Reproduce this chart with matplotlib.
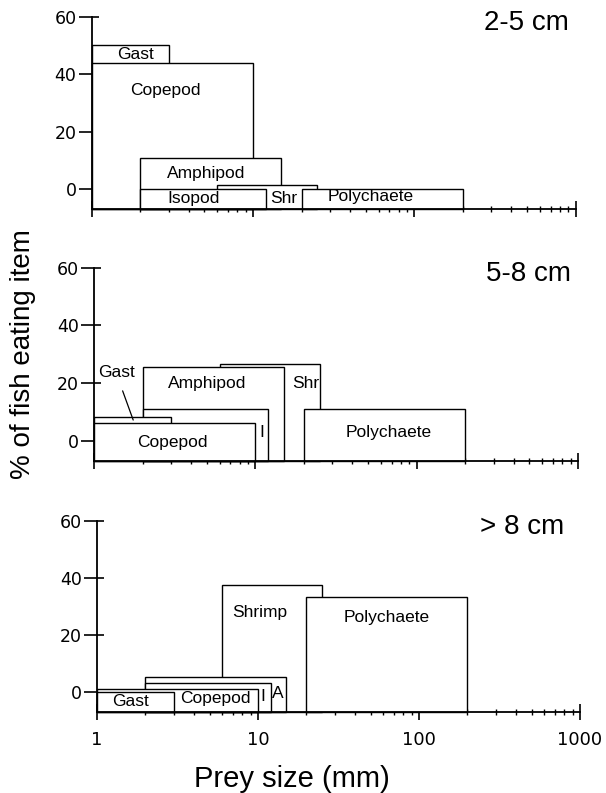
import matplotlib
matplotlib.use("Agg")
import matplotlib.pyplot as plt
from matplotlib.patches import Rectangle
from matplotlib.ticker import FixedLocator, NullFormatter

plt.rcParams['font.family'] = ['Liberation Sans', 'DejaVu Sans']

# prey items per fish size class, listed back-to-front
# (size range in mm, % of fish eating item)
p1_items = ['Gast', 'Copepod', 'Amphipod', 'Shr', 'Isopod', 'Polychaete']
p1_lo = [1, 1, 2, 6, 2, 20]
p1_hi = [3, 10, 15, 25, 12, 200]
p1_pct = [50.3, 44, 11, 1.6, 0.2, 0.2]

p2_items = ['Shr', 'Amphipod', 'I', 'Gast', 'Copepod', 'Polychaete']
p2_lo = [6, 2, 2, 1, 1, 20]
p2_hi = [25, 15, 12, 3, 10, 200]
p2_pct = [26.4, 25.4, 11, 8.1, 6.2, 10.9]

p3_items = ['Shrimp', 'A', 'I', 'Copepod', 'Gast', 'Polychaete']
p3_lo = [6, 2, 2, 1, 1, 20]
p3_hi = [25, 15, 12, 10, 3, 200]
p3_pct = [37.4, 5.4, 3.3, 1.2, 0.1, 33.3]

titles = ['2-5 cm', '5-8 cm', '> 8 cm']
y_ticks = [0, 20, 40, 60]
x_ticks = [1, 10, 100, 1000]
x_ticklabels = ['1', '10', '100', '1000']
YMIN, YMAX = -7, 60

# where the item names sit (data coords)
label_spots = [
    {'Gast': (1.86, 47), 'Copepod': (2.86, 34.4), 'Amphipod': (5.1, 5.6),
     'Shr': (15.5, -3.2), 'Isopod': (4.26, -3.2), 'Polychaete': (53.7, -2.6)},
    {'Shr': (20.4, 19.6), 'Amphipod': (5.0, 19.6), 'I': (11, 2.8),
     'Copepod': (3.08, -0.7), 'Polychaete': (67.5, 2.8)},
    {'Shrimp': (10.2, 27.8), 'A': (13.3, -0.5), 'I': (10.7, -1.4),
     'Copepod': (5.4, -2.3), 'Gast': (1.61, -3.2), 'Polychaete': (63, 26)},
]
title_right = [0.985, 0.985, 0.968]

fig = plt.figure(figsize=(6.06, 7.93), dpi=100)
W, H = 606, 793
# axes boxes in pixels: left, right, top(60), bottom(-7)
boxes = [(91.7, 575.7, 16.7, 209.3), (94, 578, 267.5, 460.7), (97, 580, 521, 712)]

panels = [(p1_items, p1_lo, p1_hi, p1_pct),
          (p2_items, p2_lo, p2_hi, p2_pct),
          (p3_items, p3_lo, p3_hi, p3_pct)]

for i, (items, lo, hi, pct) in enumerate(panels):
    l, r, t, b = boxes[i]
    ax = fig.add_axes([l / W, 1 - b / H, (r - l) / W, (b - t) / H])
    ax.set_xscale('log')
    ax.set_xlim(1, 1000)
    ax.set_ylim(YMIN, YMAX)
    for s in ['top', 'right']:
        ax.spines[s].set_visible(False)
    for s in ['left', 'bottom']:
        ax.spines[s].set_linewidth(1.3)
        ax.spines[s].set_zorder(20)

    for k, name in enumerate(items):
        rect = Rectangle((lo[k], YMIN), hi[k] - lo[k], pct[k] - YMIN,
                         facecolor='white', edgecolor='black', linewidth=1.0,
                         zorder=2 + k, clip_on=False)
        ax.add_patch(rect)
        if name in label_spots[i]:
            x, y = label_spots[i][name]
            ax.text(x, y, name, ha='center', va='center', fontsize=12.5,
                    zorder=15)

    if i == 1:
        ax.annotate('Gast', xy=(1.75, 7.1), xytext=(1.37, 23.5),
                    ha='center', va='center', fontsize=12.5, zorder=15,
                    arrowprops=dict(arrowstyle='-', lw=0.9, color='black',
                                    shrinkA=6, shrinkB=0))

    ax.text(title_right[i], 0.93, titles[i], transform=ax.transAxes,
            ha='right', va='baseline', fontsize=20)

    # y ticks: long outward + short inward
    ax.yaxis.set_major_locator(FixedLocator(y_ticks))
    ax.yaxis.set_minor_locator(FixedLocator(y_ticks))
    ax.yaxis.remove_overlapping_locs = False
    ax.tick_params(axis='y', which='major', direction='out', length=9.5,
                   width=1.2, pad=1.5, labelsize=12.5)
    ax.tick_params(axis='y', which='minor', direction='in', length=4.8,
                   width=1.2)
    for lab in ax.get_yticklabels():
        lab.set_fontfamily('DejaVu Sans')

    ax.xaxis.set_major_locator(FixedLocator(x_ticks))
    minors = [m * d for d in (1, 10, 100) for m in range(2, 10)]
    ax.xaxis.set_minor_locator(FixedLocator(minors))
    ax.xaxis.set_minor_formatter(NullFormatter())
    ax.tick_params(axis='x', which='major', direction='inout', length=11,
                   width=1.2, pad=8, labelsize=13)
    ax.tick_params(axis='x', which='minor', direction='inout', length=4,
                   width=1.0)
    if i == 2:
        ax.set_xticklabels(x_ticklabels, fontfamily='DejaVu Sans')
    else:
        ax.xaxis.set_major_formatter(NullFormatter())

fig.text(23 / W, 1 - 354 / H, '% of fish eating item', rotation=90,
         ha='center', va='center', fontsize=20)
fig.text(292 / W, 1 - 779 / H, 'Prey size (mm)', ha='center', va='center',
         fontsize=21)

fig.savefig('out.png', dpi=100)
